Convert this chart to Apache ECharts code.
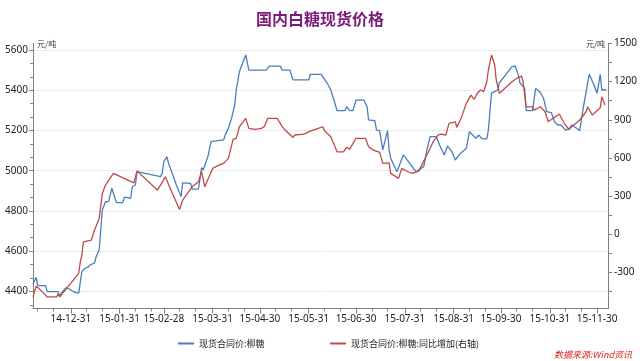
<!DOCTYPE html>
<html><head><meta charset="utf-8">
<script src="https://cdn.jsdelivr.net/npm/echarts@6/dist/echarts.min.js"></script>
<style>html,body{margin:0;padding:0;background:#fff}#c{width:640px;height:361px}</style>
</head><body><div id="c"></div>
<script>
var blueDates = ['2014-12-07','2014-12-09','2014-12-10','2014-12-15','2014-12-16','2014-12-23','2014-12-24','2014-12-25','2014-12-28','2014-12-30','2015-01-02','2015-01-05','2015-01-07','2015-01-09','2015-01-11','2015-01-12','2015-01-13','2015-01-15','2015-01-16','2015-01-18','2015-01-19','2015-01-20','2015-01-22','2015-01-24','2015-01-26','2015-01-27','2015-01-29','2015-02-02','2015-02-03','2015-02-07','2015-02-08','2015-02-10','2015-02-11','2015-02-26','2015-02-27','2015-02-28','2015-03-02','2015-03-03','2015-03-05','2015-03-08','2015-03-11','2015-03-12','2015-03-17','2015-03-18','2015-03-22','2015-03-24','2015-03-25','2015-03-28','2015-03-30','2015-04-07','2015-04-08','2015-04-10','2015-04-12','2015-04-14','2015-04-15','2015-04-16','2015-04-17','2015-04-19','2015-04-21','2015-04-23','2015-05-04','2015-05-06','2015-05-13','2015-05-14','2015-05-19','2015-05-21','2015-05-31','2015-06-01','2015-06-08','2015-06-10','2015-06-12','2015-06-14','2015-06-16','2015-06-18','2015-06-23','2015-06-24','2015-06-26','2015-06-28','2015-06-30','2015-07-05','2015-07-07','2015-07-08','2015-07-12','2015-07-13','2015-07-15','2015-07-17','2015-07-20','2015-07-21','2015-07-22','2015-07-26','2015-07-27','2015-07-30','2015-08-03','2015-08-07','2015-08-08','2015-08-12','2015-08-14','2015-08-16','2015-08-20','2015-08-22','2015-08-25','2015-08-27','2015-08-30','2015-09-01','2015-09-04','2015-09-08','2015-09-10','2015-09-12','2015-09-14','2015-09-16','2015-09-18','2015-09-21','2015-09-22','2015-09-24','2015-09-26','2015-09-28','2015-09-29','2015-10-03','2015-10-07','2015-10-09','2015-10-11','2015-10-12','2015-10-15','2015-10-16','2015-10-20','2015-10-22','2015-10-23','2015-10-25','2015-10-27','2015-10-29','2015-11-01','2015-11-03','2015-11-05','2015-11-07','2015-11-10','2015-11-12','2015-11-14','2015-11-17','2015-11-19','2015-11-21','2015-11-24','2015-11-25','2015-11-28','2015-11-30','2015-12-02','2015-12-03','2015-12-06'];
var blueValues = [4437,4470,4429,4429,4399,4399,4374,4392,4419,4412,4397,4391,4498,4515,4521,4531,4526,4541,4571,4606,4705,4805,4846,4846,4913,4889,4841,4841,4868,4863,4920,4929,4995,4970,4989,5045,5068,5038,4995,4929,4871,4939,4937,4908,4908,5015,5003,5070,5144,5153,5177,5212,5260,5326,5401,5401,5492,5534,5575,5500,5500,5520,5520,5500,5500,5451,5451,5479,5479,5454,5431,5401,5351,5298,5298,5318,5298,5298,5351,5351,5318,5252,5248,5202,5199,5103,5199,5103,5062,4995,4987,5078,5037,4995,4994,5020,5103,5169,5169,5128,5078,5123,5093,5053,5083,5111,5194,5177,5161,5177,5158,5158,5202,5385,5393,5401,5437,5476,5517,5520,5476,5437,5409,5298,5298,5409,5404,5388,5360,5293,5288,5243,5227,5227,5202,5206,5227,5211,5199,5302,5434,5479,5426,5385,5479,5401,5401];
var redDates = ['2014-12-07','2014-12-09','2014-12-13','2014-12-16','2014-12-22','2014-12-23','2014-12-24','2015-01-05','2015-01-06','2015-01-07','2015-01-08','2015-01-13','2015-01-15','2015-01-18','2015-01-20','2015-01-21','2015-01-22','2015-01-27','2015-02-09','2015-02-11','2015-02-24','2015-03-01','2015-03-02','2015-03-05','2015-03-10','2015-03-12','2015-03-18','2015-03-19','2015-03-22','2015-03-24','2015-03-26','2015-03-31','2015-04-04','2015-04-07','2015-04-10','2015-04-13','2015-04-15','2015-04-16','2015-04-17','2015-04-21','2015-04-23','2015-04-27','2015-05-01','2015-05-03','2015-05-05','2015-05-11','2015-05-14','2015-05-16','2015-05-21','2015-05-22','2015-05-28','2015-06-01','2015-06-06','2015-06-09','2015-06-10','2015-06-11','2015-06-14','2015-06-18','2015-06-22','2015-06-24','2015-06-26','2015-06-30','2015-07-06','2015-07-08','2015-07-11','2015-07-15','2015-07-17','2015-07-21','2015-07-22','2015-07-27','2015-07-29','2015-08-02','2015-08-05','2015-08-09','2015-08-11','2015-08-15','2015-08-18','2015-08-21','2015-08-23','2015-08-26','2015-08-28','2015-09-01','2015-09-02','2015-09-05','2015-09-08','2015-09-11','2015-09-13','2015-09-15','2015-09-17','2015-09-19','2015-09-21','2015-09-22','2015-09-24','2015-09-26','2015-09-27','2015-09-29','2015-10-07','2015-10-11','2015-10-13','2015-10-14','2015-10-16','2015-10-20','2015-10-21','2015-10-25','2015-10-28','2015-10-30','2015-11-06','2015-11-09','2015-11-12','2015-11-19','2015-11-23','2015-11-24','2015-11-27','2015-12-02','2015-12-03','2015-12-05'];
var redValues = [-494,-409,-454,-494,-494,-467,-494,-309,-220,-165,-61,-47,31,124,320,323,386,478,404,498,346,451,449,333,194,268,372,358,412,491,372,517,543,557,596,746,754,746,845,911,832,824,832,850,911,911,850,819,761,780,787,811,832,845,813,827,766,648,648,683,669,754,754,687,661,643,557,561,478,439,517,491,478,498,551,648,727,780,787,780,872,884,840,921,1029,1094,1061,1108,1134,1122,1199,1291,1409,1331,1213,1108,1199,1234,1244,1199,1002,1002,976,1002,963,884,945,876,824,898,963,1002,937,994,1081,1016];
var xLabelDates = ['2014-12-31','2015-01-31','2015-02-28','2015-03-31','2015-04-30','2015-05-31','2015-06-30','2015-07-31','2015-08-31','2015-09-30','2015-10-31','2015-11-30'];
var xMinorDates = ['2014-12-10','2014-12-20','2015-01-10','2015-01-20','2015-02-10','2015-02-20','2015-03-10','2015-03-20','2015-04-10','2015-04-20','2015-05-10','2015-05-20','2015-06-10','2015-06-20','2015-07-10','2015-07-20','2015-08-10','2015-08-20','2015-09-10','2015-09-20','2015-10-10','2015-10-20','2015-11-10','2015-11-20'];
var leftTicks = [4400,4600,4800,5000,5200,5400,5600];
var leftMinor = [4333.3,4466.7,4533.3,4666.7,4733.3,4866.7,4933.3,5066.7,5133.3,5266.7,5333.3,5466.7,5533.3];
var rightTicks = [-300,0,300,600,900,1200,1500];
var rightMinor = [-450,-300,-150,0,150,300,450,600,750,900,1050,1200,1350,1500];
var blueName = '现货合同价:柳糖';
var redName = '现货合同价:柳糖:同比增加(右轴)';
var titleText = '国内白糖现货价格';
var sourceText = '数据来源:Wind资讯';

function ts(s){ var p = s.split('-'); return Date.UTC(+p[0], +p[1]-1, +p[2]); }
function pad(n){ return (n<10?'0':'')+n; }
function fmtDate(v){ var d = new Date(v); return pad(d.getUTCFullYear()%100)+'-'+pad(d.getUTCMonth()+1)+'-'+pad(d.getUTCDate()); }
function plain(v){ return String(Math.round(v)); }

var xMin = ts('2014-12-07'), xMax = ts('2015-12-07');
var lMin = 4315, lMax = 5632, rMin = -585, rMax = 1500;
var axisColor = '#808080';
var font = 'Noto Sans, DejaVu Sans, sans-serif';

var chart = echarts.init(document.getElementById('c'), null, {renderer:'canvas'});
chart.setOption({
  animation: false,
  backgroundColor: '#fff',
  title: { text: titleText, left: 'center', top: 6, textStyle: { color: '#7b1c7b', fontSize: 16, fontWeight: 'bold', fontFamily: 'Noto Sans CJK SC' } },
  grid: { left: 33, right: 27.5, top: 43.5, bottom: 52.5, containLabel: false },
  legend: [
    { left: 173, top: 334, icon: 'rect', itemWidth: 16, itemHeight: 2, itemGap: 4, data: [blueName], textStyle: { fontSize: 9, color: '#222', fontFamily: 'Noto Sans CJK SC' } },
    { left: 325, top: 334, icon: 'rect', itemWidth: 16, itemHeight: 2, itemGap: 4, data: [redName], textStyle: { fontSize: 9, color: '#222', fontFamily: 'Noto Sans CJK SC' } }
  ],
  xAxis: [
    { type: 'value', min: xMin, max: xMax, position: 'bottom',
      axisLine: { show: true, onZero: false, lineStyle: { color: axisColor, width: 1 } },
      axisTick: { show: true, length: 5, customValues: xLabelDates.map(ts), lineStyle: { color: axisColor } },
      axisLabel: { customValues: xLabelDates.map(ts), formatter: function(v){ return fmtDate(v); }, fontSize: 10, color: '#222', margin: 6, fontFamily: font },
      splitLine: { show: false } },
    { type: 'value', min: xMin, max: xMax, position: 'bottom',
      axisLine: { show: false, onZero: false },
      axisTick: { show: true, length: 3, customValues: xMinorDates.map(ts), lineStyle: { color: axisColor } },
      axisLabel: { show: false }, splitLine: { show: false } }
  ],
  yAxis: [
    { type: 'value', min: lMin, max: lMax, position: 'left',
      name: '元/吨', nameLocation: 'end', nameGap: 0,
      nameTextStyle: { fontSize: 8, color: '#333', align: 'left', verticalAlign: 'middle', padding: [0,0,0,4], fontFamily: 'Noto Sans CJK SC' },
      axisLine: { show: true, lineStyle: { color: axisColor } },
      axisTick: { show: true, length: 4, customValues: leftTicks, lineStyle: { color: axisColor } },
      axisLabel: { customValues: leftTicks, formatter: plain, fontSize: 10, color: '#222', margin: 5, fontFamily: font },
      splitLine: { show: true, lineStyle: { color: '#ebebeb', width: 1 } } },
    { type: 'value', min: rMin, max: rMax, position: 'right',
      name: '元/吨', nameLocation: 'end', nameGap: 0,
      nameTextStyle: { fontSize: 8, color: '#333', align: 'right', verticalAlign: 'middle', padding: [0,3,0,0], fontFamily: 'Noto Sans CJK SC' },
      axisLine: { show: true, lineStyle: { color: axisColor } },
      axisTick: { show: true, length: 4, customValues: rightMinor, lineStyle: { color: axisColor } },
      axisLabel: { customValues: rightTicks, formatter: plain, fontSize: 10, color: '#222', margin: 6, fontFamily: font },
      splitLine: { show: false } },
    { type: 'value', min: lMin, max: lMax, position: 'left',
      axisLine: { show: false },
      axisTick: { show: true, length: 3, customValues: leftMinor, lineStyle: { color: axisColor } },
      axisLabel: { show: false }, splitLine: { show: false } }
  ],
  series: [
    { name: blueName, type: 'line', xAxisIndex: 0, yAxisIndex: 0, symbol: 'none', color: '#4a7ebb',
      lineStyle: { width: 1.3, color: '#4a7ebb' },
      data: blueDates.map(function(d,i){ return [ts(d), blueValues[i]]; }) },
    { name: redName, type: 'line', xAxisIndex: 0, yAxisIndex: 1, symbol: 'none', color: '#be4b48',
      lineStyle: { width: 1.3, color: '#be4b48' },
      data: redDates.map(function(d,i){ return [ts(d), redValues[i]]; }) }
  ],
  graphic: [
    { type: 'text', right: 8, bottom: 2, style: { text: sourceText, fill: '#e02020', fontSize: 9, fontStyle: 'italic', fontFamily: 'Noto Sans CJK SC' } }
  ]
});
</script></body></html>
